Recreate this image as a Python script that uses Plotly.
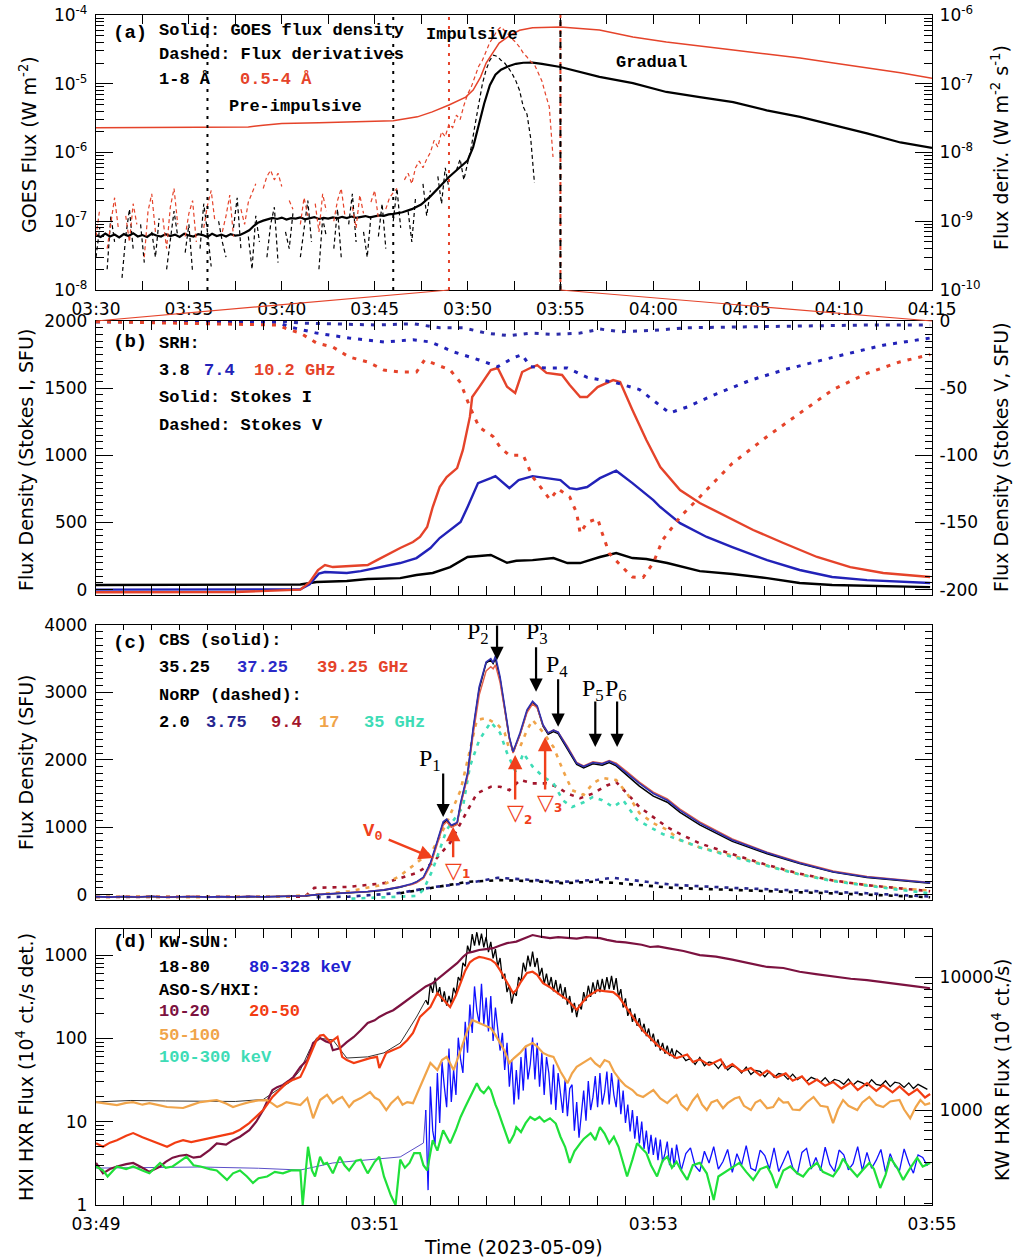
import pandas as pd
import plotly.graph_objects as go

W, H = 1015, 1257
DAY = "2023-05-09"
T_A0 = pd.Timestamp(f"{DAY} 03:30:00")   # start of panel (a)
T_Z0 = pd.Timestamp(f"{DAY} 03:49:00")   # start of panels (b)-(d)

MONO = "Liberation Mono"
SANS = "DejaVu Sans"
SERIF = "Liberation Serif"

RED = "#e5432a"
BLUE = "#2222b8"
NAVY = "#26268f"
DKRED = "#a3162c"
ORANGE = "#f0a44a"
CYAN = "#3edcb6"
MAROON = "#7c1240"
GREEN = "#1fe03a"
KWBLUE = "#1010ff"
HXRED = "#f23c12"

# ---------------------------------------------------------------- panel (a)
# GOES 1-8 A during the quiet interval, one value every 15 s from 03:30
GOES_QUIET_STEP_MIN = 0.25
goes_long_quiet = [
    6.3e-8, 5.9e-8, 6.6e-8, 6.0e-8, 6.4e-8, 5.8e-8, 6.5e-8, 6.1e-8, 6.7e-8, 6.0e-8,
    6.3e-8, 5.9e-8, 6.6e-8, 6.2e-8, 6.0e-8, 6.5e-8, 6.1e-8, 6.4e-8, 5.9e-8, 6.6e-8,
    6.2e-8, 6.0e-8, 6.5e-8, 6.3e-8, 5.9e-8, 6.6e-8, 6.1e-8, 6.4e-8, 6.0e-8, 6.5e-8,
    6.2e-8, 6.3e-8, 6.8e-8, 7.4e-8,
    8.6e-8, 9.6e-8, 1.02e-7, 1.07e-7, 1.12e-7, 1.08e-7, 1.13e-7, 1.06e-7, 1.11e-7, 1.09e-7,
    1.14e-7, 1.07e-7, 1.10e-7, 1.15e-7, 1.08e-7, 1.12e-7, 1.09e-7, 1.14e-7, 1.10e-7, 1.16e-7,
    1.11e-7, 1.17e-7, 1.12e-7, 1.15e-7, 1.19e-7, 1.14e-7, 1.18e-7, 1.22e-7, 1.20e-7, 1.26e-7,
    1.28e-7]
# (minutes after 03:30, W m^-2)
goes_long_flare = [
    (16.5, 1.35e-7), (17.0, 1.5e-7), (17.5, 1.75e-7), (18.0, 2.3e-7), (18.5, 3.2e-7),
    (19.0, 4.4e-7), (19.5, 5.8e-7), (20.0, 7.6e-7), (20.3, 1.2e-6), (20.6, 2.6e-6),
    (20.9, 5.2e-6), (21.2, 9.5e-6), (21.5, 1.35e-5), (21.8, 1.6e-5), (22.2, 1.8e-5),
    (22.6, 1.95e-5), (23.0, 2.02e-5), (23.5, 2.03e-5), (24.0, 1.95e-5), (25.0, 1.75e-5),
    (26.0, 1.5e-5), (27.1, 1.26e-5), (28.9, 1.02e-5), (30.7, 7.6e-6), (32.5, 6.4e-6),
    (34.3, 5.4e-6), (36.1, 4.1e-6), (37.9, 3.3e-6), (39.7, 2.5e-6), (41.5, 1.9e-6),
    (43.3, 1.4e-6), (45.0, 1.17e-6)]
goes_short = [
    (0, 2.3e-6), (4, 2.3e-6), (8.2, 2.35e-6), (9.0, 2.5e-6), (10.0, 2.65e-6), (12, 2.7e-6),
    (14, 2.8e-6), (16.0, 2.9e-6), (17.3, 3.3e-6), (18.1, 3.9e-6), (19.0, 4.9e-6),
    (19.9, 6.4e-6), (20.3, 8.1e-6), (20.7, 1.25e-5), (21.0, 2.0e-5), (21.4, 2.9e-5),
    (21.7, 3.9e-5), (22.3, 5.1e-5), (22.8, 6.0e-5), (23.5, 6.5e-5), (25.0, 6.7e-5),
    (27.1, 6.05e-5), (28.9, 4.8e-5), (30.7, 4.05e-5), (32.5, 3.5e-5), (34.3, 3.1e-5),
    (36.1, 2.7e-5), (37.9, 2.37e-5), (39.7, 2.0e-5), (41.5, 1.7e-5), (43.3, 1.44e-5),
    (45.0, 1.2e-5)]

# time derivatives, one value every 12 s from 03:30, in units of 1e-10 W m^-2 s^-1
# (None where the derivative is negative)
DERIV_STEP_MIN = 0.2
deriv_long = [
    3, 8, None, 2, 12, 5, None, 1.5, 6, 15,
    4, None, 9, 2.5, None, 7, 3, 11, None, 2,
    5, 14, 6, None, 3.5, 9, 1.8, None, 4, 18,
    7, 2.2, None, 10, 5, 3, None, 8, 22, 4,
    None, 6, 2, 12, 5, None, 3, 9, 16, 2.5,
    None, 7, 4, 13, None, 3, 8, 20, 5, None,
    2, 11, 6, None, 4, 15, 3, None, 9, 25,
    5, None, 7, 3, 12, None, 6, 18, 4, None,
    10, 30, 8, None, 14, 5, 22, None, 35, 12,
    28, None, 45, 18, 60, 30, None, 55, 80, 40,
    70, 120, 250, 500, 1000, 1600, 2200, 2600, 2500, 2200,
    2000, 1700, 1400, 1100, 800, 460, 360, 160, 36, None]
deriv_short = [
    6, 15, None, 4, 10, 22, 8, None, 12, 5,
    18, 9, None, 3, 14, 25, 7, None, 11, 4,
    16, 30, 9, None, 6, 13, 20, 5, None, 8,
    17, 28, 10, None, 7, 12, 24, 6, None, 15,
    9, 19, 25, 35, None, 30, 45, 55, 40, 50,
    32, None, 20, 15, None, 9, 22, 12, None, 18,
    7, 25, 14, None, 10, 20, 30, 12, None, 16,
    8, 24, 13, None, 19, 28, 11, None, 15, 22,
    26, 30, None, 40, 50, 35, 60, 75, 60, 80,
    100, 150, 120, 200, 170, 260, 230, 350, 300, 480,
    700, 900, 1300, 1800, 2200, 3000, 4000, 4800, 6000, 6700,
    6000, 5200, 4500, 4000, 3400, 2800, 2450, 2100, 1900, 1400,
    1100, 700, 460, 86, None]
DERIV_UNIT = 1e-10

phase_marks = [("03:36", "dot", "black"), ("03:46", "dot", "black"),
               ("03:49", "dot", RED), ("03:55", "dash", "black")]
phase_labels = [("Pre-impulsive", 227, 107), ("Impulsive", 424, 34), ("Gradual", 614, 62)]

# ---------------------------------------------------------------- panel (b)  SRH
# (seconds after 03:49, SFU)
srh_102_i = [
    (0, -20), (30, -20), (60, -18), (88, 0), (92, 56), (95.6, 146), (98.6, 183), (102, 168),
    (108, 175), (114, 180), (117, 183), (121, 220), (125, 257), (131, 310), (136.5, 354),
    (139.5, 392), (142.6, 466), (145, 615), (148, 764), (151, 838), (155.5, 905), (158, 1040),
    (161, 1286), (162, 1434), (165, 1508), (170, 1635), (173, 1650), (177, 1510), (180.5, 1464),
    (183.5, 1620), (187, 1650), (190, 1672), (194, 1613), (200.7, 1598), (204, 1523),
    (208.5, 1434), (211.5, 1434), (216, 1508), (222.7, 1560), (225.7, 1545), (231, 1338),
    (237, 1114), (243, 913), (251.5, 741), (260, 645), (272, 540), (283, 444), (296, 347),
    (310.5, 243), (324.8, 168), (339, 124), (359.2, 94)]
srh_74_i = [
    (0, 0), (60, 0), (88, 2), (92, 40), (96, 120), (98.6, 131), (108, 124), (114, 138),
    (121, 161), (131, 198), (138, 235), (144, 310), (148, 384), (152.5, 444), (157, 503),
    (160, 615), (164.5, 793), (170, 830), (172, 845), (178, 756), (182, 816), (188, 845),
    (194, 830), (200, 816), (204, 756), (207, 748), (211.5, 764), (217, 830), (224, 885),
    (231, 793), (240, 667), (243, 615), (251.5, 495), (263, 392), (274, 317), (289, 220),
    (303, 146), (317, 94), (332, 71), (359.2, 49)]
srh_38_i = [
    (0, 35), (60, 36), (88, 38), (95, 57), (108, 64), (117, 79), (131, 86), (138, 109),
    (145, 124), (152.5, 168), (160, 243), (165, 250), (170, 258), (177, 200), (181, 215),
    (188, 220), (197, 235), (203, 198), (208.5, 198), (217, 243), (224, 272), (231, 235),
    (237, 228), (246, 198), (260, 138), (274, 116), (289, 86), (303, 49), (317, 34), (359.2, 19)]
srh_38_v = [
    (0, -0.5), (82, -0.5), (88, -1.5), (121, -3), (136.5, -2), (148, -5), (158, -5), (168, -9),
    (178, -11), (187, -9), (197, -10), (208.5, -9), (217, -6), (225.7, -8), (240, -7),
    (254.6, -5), (274, -4.5), (303, -3.7), (332, -3), (359.2, -3)]
srh_74_v = [
    (0, -0.5), (78, -1), (83.6, -4.5), (95, -9), (109, -12.7), (124, -15.6), (136.5, -14),
    (144, -15.6), (154, -23), (165, -29), (173, -34), (179.6, -27.5), (183.5, -25), (187, -34),
    (194, -35), (203, -35), (211.5, -42), (224, -46), (234, -51), (241.6, -61), (247, -68.5),
    (254.6, -64), (267.5, -54), (282, -44), (296, -36.5), (317.4, -27), (339, -18), (359.2, -12.7)]
srh_102_v = [
    (0, -0.5), (78, -3), (83.6, -6.7), (88, -9), (95, -16.4), (102, -19.4), (109, -26.8),
    (117, -30.5), (124, -36.5), (131, -38), (138, -38), (141.5, -29), (147, -32.8),
    (152.5, -36.5), (157, -46), (161, -64), (165, -79), (171, -86), (174, -94), (178, -100),
    (184, -100), (188, -116), (192.5, -126), (195.5, -133), (199, -125), (204, -131),
    (207, -143), (208.5, -158), (211.5, -150), (216, -147), (218, -158), (221, -173),
    (226.5, -183), (231, -190.6), (235.6, -191), (240, -180), (244, -163), (251.5, -146),
    (260, -131), (274, -106), (289, -86), (303, -68.5), (317.4, -51), (332, -39), (346, -30.5),
    (359.2, -25)]

# ---------------------------------------------------------------- panel (c)  CBS / NoRP
cbs_t = [0, 6, 12, 18, 24, 30, 36, 42, 48, 54, 60, 66, 72, 78, 84,
         90, 95, 102, 109, 117, 124, 131, 136, 138, 141,
         144, 147, 149.5, 151, 153, 155.5, 157, 160, 162.5, 165,
         168, 170, 171, 172, 174, 176, 178, 179.6, 182.6, 185.6,
         188, 190, 192.5, 194.7, 197, 199, 203, 207, 210, 214,
         218, 221, 224, 228.7, 234, 240, 246, 251.5, 260, 274,
         289, 303, 317.4, 332, 346, 359.2]
cbs_3725 = [-30, -38, -28, -36, -25, -40, -32, -27, -38, -30, -35, -26, -33, -28, -22,
            -18, 0, 12, 25, 45, 70, 115, 160, 190, 260,
            470, 800, 1080, 1120, 1030, 1070, 1360, 1800, 2490, 3080,
            3450, 3500, 3440, 3540, 3230, 2790, 2340, 2120, 2400, 2740,
            2870, 2800, 2520, 2400, 2440, 2410, 2190, 1950, 1900, 1960,
            1940, 1980, 1930, 1800, 1650, 1500, 1400, 1250, 1060, 810,
            620, 470, 340, 260, 215, 175]
cbs_3525 = [-32, -36, -30, -34, -27, -38, -33, -29, -36, -31, -34, -28, -32, -29, -24,
            -20, -2, 10, 22, 42, 66, 110, 155, 185, 250,
            455, 780, 1060, 1100, 1010, 1050, 1340, 1780, 2460, 3050,
            3440, 3480, 3430, 3500, 3200, 2760, 2320, 2110, 2380, 2720,
            2850, 2780, 2500, 2380, 2420, 2390, 2170, 1930, 1880, 1940,
            1920, 1960, 1910, 1770, 1610, 1460, 1370, 1220, 1035, 790,
            605, 460, 335, 255, 210, 170]
cbs_3925 = [-28, -35, -26, -33, -24, -37, -30, -25, -35, -28, -33, -24, -31, -26, -20,
            -16, 2, 14, 27, 47, 72, 112, 150, 175, 240,
            430, 750, 1030, 1080, 1000, 1040, 1320, 1750, 2400, 2960,
            3320, 3380, 3350, 3410, 3150, 2740, 2310, 2100, 2370, 2700,
            2830, 2770, 2510, 2400, 2440, 2410, 2200, 1960, 1910, 1970,
            1950, 1990, 1950, 1820, 1670, 1520, 1420, 1270, 1080, 825,
            630, 480, 350, 268, 222, 180]
norp_17 = [
    (0, -35), (20, -30), (40, -38), (60, -32), (80, -30), (95, 0), (109, 50), (124, 150),
    (131, 280), (138, 470), (145, 660), (151, 1060), (157, 1550), (161, 2140), (164, 2590),
    (168, 2620), (173, 2520), (176, 2400), (178, 2150), (182.6, 2190), (185.6, 2440),
    (188, 2590), (192.5, 2410), (197, 2190), (201, 1850), (205, 1550), (210, 1480),
    (214, 1650), (218, 1730), (224, 1700), (228.7, 1500), (234, 1210), (240, 1060),
    (246, 960), (251.5, 810), (260, 700), (274, 580), (289, 430), (303, 300), (317.4, 210),
    (332, 140), (346, 90), (359.2, 60)]
norp_35 = [
    (110, -60), (124, -40), (138, -20), (141, 70), (145, 370), (151, 960), (158, 1300),
    (161, 1900), (165, 2290), (170, 2560), (174, 2400), (177, 2100), (181, 1800), (184, 2100),
    (188, 1900), (192.5, 1750), (197, 1650), (201, 1400), (205, 1300), (210, 1370),
    (214, 1450), (218, 1400), (222.7, 1300), (227, 1400), (233, 1110), (238.6, 1000),
    (244, 900), (251.5, 810), (260, 700), (274, 560), (289, 420), (303, 300), (317.4, 200),
    (332, 130), (346, 70), (359.2, 20)]
norp_94 = [
    (0, -35), (30, -32), (60, -36), (90, -30), (94, 100), (109, 115), (124, 170), (138, 320),
    (145, 470), (152.5, 770), (160, 1250), (164, 1500), (170, 1600), (174, 1600), (178, 1550),
    (182.6, 1700), (188, 1650), (194, 1650), (198.5, 1600), (203, 1500), (208.5, 1430),
    (214, 1500), (220, 1620), (224, 1670), (228.7, 1500), (234, 1300), (240, 1150),
    (246, 1000), (251.5, 900), (260, 760), (274, 600), (289, 440), (303, 310), (317.4, 210),
    (332, 140), (346, 90), (359.2, 50)]
norp_375 = [
    (95, -40), (109, -30), (131, 25), (145, 110), (160, 170), (173, 250), (187, 220),
    (201, 190), (216, 220), (222.7, 250), (237, 190), (248.5, 145), (274, 100), (303, 60),
    (332, 20), (359.2, -30)]
norp_20 = [
    (131, 20), (145, 100), (152.5, 145), (160, 190), (174, 215), (188, 200), (201, 170),
    (214, 190), (222.7, 175), (237, 130), (248.5, 100), (274, 70), (303, 40), (332, 0),
    (359.2, -40)]

# peaks (seconds after 03:49) and the arrow tips above them
peaks = [("1", 149.5, 1150), ("2", 172.7, 3480), ("3", 189.5, 3010),
         ("4", 199.0, 2490), ("5", 215.0, 2190), ("6", 224.4, 2190)]
peak_arrow_len = [45, 36, 46, 49, 47, 47]
valleys = [("1", 153.8, 1006, 32), ("2", 180.5, 2072, 46), ("3", 193.4, 2340, 54)]
v0_tip = (145.2, 543)

# ---------------------------------------------------------------- panel (d)  HXR
hxi_1020 = [
    (0, 3.2), (3, 2.4), (6, 2.7), (9, 2.9), (13, 3.1), (16, 3.2), (20, 2.8), (23, 2.5),
    (27.6, 2.9), (30, 3.3), (33, 3.7), (36, 3.9), (39, 4.0), (42, 3.7), (45, 3.8), (49, 4.6),
    (52, 5.5), (56, 5.3), (59, 6.0), (62, 6.6), (66, 7.9), (69, 10), (72, 13.8), (74, 18),
    (76, 24), (78, 26), (80.5, 27.6), (83, 31), (85, 34.4), (88, 45.5), (91, 55), (93.5, 88),
    (96.5, 101), (99, 92), (101, 88), (102, 72), (105, 76), (108, 90), (111, 104), (114, 125),
    (117, 153), (120, 165), (122, 181), (125, 200), (128, 218), (131, 250), (134, 290),
    (137, 330), (139.5, 380), (142, 420), (145, 460), (148, 540), (151, 630), (153, 700),
    (155.5, 800), (158, 950), (160, 1060), (162.5, 1100), (165, 1150), (168, 1180),
    (171, 1210), (174, 1300), (177, 1390), (181, 1450), (184, 1560), (188, 1740), (192, 1650),
    (195.5, 1600), (199, 1640), (203, 1620), (207, 1580), (211, 1640), (217, 1600),
    (220, 1520), (224, 1450), (228, 1420), (231, 1390), (235, 1330), (238.6, 1250),
    (242, 1270), (246, 1210), (253, 1120), (260, 1000), (267, 960), (274, 880), (281, 800),
    (289, 720), (296, 700), (303, 630), (310, 590), (317.4, 550), (325, 520), (332, 500),
    (339, 470), (346, 440), (353, 420), (359.2, 400)]
hxi_2050 = [
    (0, 5.5), (3, 5.0), (6, 5.6), (9, 6.0), (13, 6.8), (16, 7.3), (20, 6.5), (23, 6.0),
    (27, 5.4), (30.6, 5.0), (34, 5.6), (37.5, 6.0), (41, 5.7), (45, 6.0), (49, 6.3),
    (52, 6.6), (56, 7.0), (59, 7.3), (62, 8.0), (66, 9.6), (69, 11.5), (72, 13.8), (74, 16.5),
    (76, 19.8), (79, 24), (82, 29), (85, 32), (88, 34.4), (90, 45), (92, 60), (94, 80),
    (95, 96), (96.5, 108), (98, 110), (101, 90), (104, 104), (106, 60), (108, 55),
    (111, 50.6), (115, 55), (118, 58), (121, 60), (122, 44), (125, 67), (128, 72), (131, 79),
    (134, 95), (136.5, 116), (139.5, 181), (142, 210), (144, 238), (147, 350), (149.5, 290),
    (152.5, 238), (155, 330), (157, 460), (159, 650), (161, 820), (163, 900), (165, 950),
    (167, 930), (170, 880), (172, 800), (174, 660), (176, 520), (178, 415), (179.6, 350),
    (181, 380), (182.6, 460), (185.6, 610), (188, 630), (190, 580), (192.5, 460), (195, 420),
    (197, 380), (200, 330), (203, 290), (205, 250), (207, 220), (209, 260), (211.5, 315),
    (214, 350), (216, 380), (219, 370), (222.7, 360), (225, 320), (227, 265), (230, 200),
    (233, 153), (236, 120), (238.6, 101), (242, 82), (246, 67), (250, 58), (254.6, 64),
    (257, 52), (260, 56), (264, 48), (269, 56), (271, 44), (274, 49), (278, 40), (282, 44),
    (286, 36), (289, 41), (293, 34), (297, 38), (300, 31), (304, 35), (307, 28), (310.5, 32),
    (314, 27), (317.4, 30), (321, 25), (325, 29.5), (328, 24), (332, 29), (336, 23.5),
    (339, 27.5), (343, 22.5), (346, 26.5), (350, 21), (353.6, 24.5), (357, 19.5), (359.2, 21.5)]
hxi_50100 = [
    (0, 17.2), (4, 16.5), (9, 15.8), (13, 16.8), (16, 17.2), (20, 16.0), (23, 16.7),
    (27, 15.8), (30.6, 15.0), (34, 14.8), (37.5, 14.6), (41, 15.8), (45, 17.2), (49, 17.8),
    (52, 18.2), (56, 16.5), (59, 15.0), (62, 16.0), (66, 17.2), (70, 18.0), (73.7, 18.2),
    (76, 16.5), (78, 15.0), (80, 16.0), (82, 17.2), (85, 16.5), (88, 15.8), (91, 19.2),
    (93.5, 11), (96.5, 18.2), (99.5, 21), (102, 16.7), (104, 18.5), (106, 19.8), (109, 15.0),
    (111, 17.5), (114, 19.2), (118, 22.7), (120, 19.5), (122, 18.2), (125, 13.8), (127, 16.5),
    (130, 19.8), (132, 16.0), (134, 17.2), (136.5, 16.7), (139.5, 26), (142, 38),
    (144, 50.6), (147, 41.7), (149, 55), (151, 60), (154, 41.7), (157, 72), (160, 126),
    (162, 166), (165, 153), (168, 140), (170, 133), (172, 110), (174, 88), (176, 70),
    (178, 50.6), (180, 58), (182.6, 67), (185, 80), (188, 88), (190, 80), (192.5, 67),
    (195, 62), (197, 60), (200, 40), (203, 29), (205, 38), (207, 45.5), (210, 52), (213, 58),
    (215, 50), (217, 45.5), (219, 55), (221, 52), (223, 40), (225.7, 31.6), (228, 27),
    (231, 24), (233, 21), (235.6, 19.8), (238, 22), (240, 24), (243, 19), (246, 16.7),
    (248, 19), (250, 21), (252, 16), (254.6, 13.8), (257, 18), (259, 21), (261, 16),
    (263, 13.8), (265, 17), (267.5, 18.2), (270, 14.5), (272, 16.7), (275, 19), (277, 19.8),
    (279, 15.5), (282, 13.8), (284, 17), (286, 18.2), (289, 14.5), (291.6, 15), (294, 19),
    (296, 17), (298, 17.2), (300, 14), (303, 13.8), (306, 17), (309, 19.8), (312, 15.5),
    (315, 15), (317.4, 9.6), (319.5, 14), (321.7, 18.2), (324, 15.5), (327.8, 13.8),
    (330, 17), (333, 19.8), (336, 16), (339, 15), (342, 17.5), (346, 18.2), (348, 14),
    (350.6, 11), (353, 15), (355, 18.2), (357, 16), (359.2, 16.7)]
hxi_100300 = [
    (0, 2.9), (3, 2.6), (5, 2.2), (9, 2.9), (13, 2.7), (16, 2.9), (20, 2.6), (23, 2.4),
    (27.6, 3.2), (30, 2.8), (33, 2.9), (36, 3.3), (39, 3.8), (42, 3.0), (45, 2.9), (49, 2.7),
    (52, 2.6), (56.4, 2.0), (59, 2.4), (62, 2.6), (65, 2.2), (67.6, 1.84), (70, 2.1),
    (73.7, 2.2), (77, 2.5), (80.5, 2.4), (84, 2.6), (88, 2.6), (89, 1.0), (91.3, 5.0),
    (93, 2.6), (94.3, 2.2), (96.5, 3.8), (98, 3.1), (99.5, 3.2), (102, 2.4), (105, 3.8),
    (107, 3.0), (109, 2.6), (112, 3.4), (114, 3.5), (116, 2.7), (117, 2.4), (120, 3.3),
    (122, 3.8), (124, 2.2), (125, 1.84), (127, 1.3), (129, 1.0), (131, 3.5), (133, 2.8),
    (135, 3.2), (137, 4.2), (139.5, 4.2), (141, 3.0), (142.6, 2.6), (145, 6.0), (147, 4.5),
    (149.5, 7.9), (151, 6.5), (152.5, 5.5), (155, 8.0), (157, 11.4), (159, 15), (161, 19.8),
    (163, 26), (164, 29), (165.5, 24), (167, 22), (169, 26), (170, 24), (172, 16),
    (173, 13.8), (175, 9.5), (176, 7.9), (177, 6.8), (178, 5.5), (180, 7.0), (181, 8.6),
    (183, 7.5), (185, 9.6), (187, 11.4), (189, 10.5), (191, 11.4), (193, 10), (195.5, 11.0),
    (198, 9.5), (200, 6.6), (202, 5.0), (204, 3.2), (206, 4.4), (208.5, 5.5), (210, 6.2),
    (213, 7.3), (215, 6.0), (217, 8.6), (219, 7.2), (221, 5.5), (223, 6.6), (225, 5.0),
    (227, 3.2), (228.7, 2.2), (231, 3.5), (233, 5.5), (235, 4.8), (237, 4.2), (239, 3.0),
    (241.6, 2.2), (244, 3.4), (246, 3.8), (248, 2.8), (250, 3.3), (252, 2.6), (254.6, 2.0),
    (257, 3.0), (260, 3.2), (263, 2.4), (266, 1.15), (268, 2.2), (272, 2.6), (275, 3.0),
    (277, 3.2), (280, 2.5), (283, 2.0), (286, 2.7), (289, 2.9), (291, 2.3), (293, 1.6),
    (296, 2.6), (299, 2.9), (302, 2.4), (304.5, 2.2), (307, 2.7), (310.5, 3.2), (313, 2.5),
    (317.4, 2.2), (320, 2.8), (321.7, 3.6), (324, 2.9), (327.8, 2.2), (330, 2.6), (333, 3.2),
    (335, 2.7), (337.7, 1.6), (340, 2.3), (342, 3.7), (345, 2.8), (347.6, 2.0), (350, 2.6),
    (353.6, 3.7), (356, 2.9), (359.2, 3.2)]

# Konus-Wind: low-cadence background, then the triggered high-cadence record
kw_1880_bg = [(0, 1150), (15, 1180), (30, 1170), (45, 1160), (60, 1160), (72, 1200),
              (78, 1415), (83.6, 1620), (88, 2000), (92, 2830), (95, 3480), (102, 3370),
              (108, 2460), (117, 2510), (124, 2690), (131, 3190), (138, 5000), (142, 6700)]
kw_80328_bg = [(0, 366), (20, 370), (45, 373), (70, 365), (88, 354), (102, 400), (117, 421),
               (131, 444), (141, 565), (142, 1000)]
KW_FAST_START_S = 142
KW_FAST_STEP_S = 1      # 142 .. 250 s
KW_SLOW_STEP_S = 2      # 252 .. 358 s
kw_1880_fast = [
    6700, 6200, 8900, 7600, 9900, 7300, 8400, 6500, 7800, 6100,
    7200, 6300, 8300, 7400, 10000, 9300, 12800, 12000, 17200, 15200,
    21000, 17200, 21800, 17300, 21200, 16700, 20000, 15400, 18400, 13800,
    16200, 12000, 13900, 9700, 10600, 7700, 8700, 6300, 7700, 7200,
    10000, 9200, 12800, 11000, 14500, 12000, 15500, 11900, 13900, 10200,
    11700, 8900, 10600, 8400, 10000, 7800, 9500, 7400, 8900, 6900,
    8400, 6200, 7200, 5400, 6400, 5000, 6200, 5700, 7700, 6600,
    8600, 7100, 9100, 7500, 9500, 7700, 9700, 7900, 10000, 8100,
    10200, 8000, 9800, 7100, 8100, 5900, 6900, 5100, 5800, 4600,
    5300, 4300, 4900, 3900, 4450, 3600, 4100, 3300, 3750, 3000,
    3400, 2800, 3200, 2650, 3050, 2550, 2900, 2450, 2800]
kw_1880_slow = [
    2620, 2350, 2450, 2200, 2480, 2150, 2300, 2250, 2050, 2280,
    2000, 2150, 2080, 1900, 2100, 1850, 1980, 1950, 1780, 1950,
    1760, 1880, 1850, 1700, 1860, 1690, 1780, 1640, 1760, 1700,
    1620, 1750, 1590, 1700, 1660, 1560, 1710, 1540, 1650, 1600,
    1520, 1690, 1560, 1530, 1660, 1500, 1620, 1590, 1480, 1600,
    1450, 1560, 1500, 1430]
kw_80328_fast = [
    1000, 250, 1500, 700, 550, 1900, 800, 2300, 1500, 1050,
    2900, 1150, 2000, 1300, 3500, 2400, 1900, 4600, 2700, 6200,
    3800, 8500, 5600, 4500, 8900, 4400, 7000, 3900, 7200, 3300,
    5900, 4200, 2800, 3800, 2000, 3200, 1500, 2400, 1100, 2000,
    1200, 2500, 1400, 3000, 1700, 2200, 3500, 1700, 3200, 1500,
    2700, 1300, 2500, 1900, 1100, 2200, 1000, 1900, 1300, 950,
    1700, 900, 1450, 1550, 700, 1150, 620, 1000, 1400, 830,
    1650, 1000, 1250, 1800, 1050, 1900, 1100, 1350, 1950, 1100,
    1900, 1300, 1050, 1750, 930, 1400, 800, 1100, 690, 1000,
    610, 900, 560, 820, 510, 700, 470, 650, 460, 620,
    420, 600, 405, 470, 580, 385, 520, 375, 550]
kw_80328_slow = [
    350, 470, 520, 380, 345, 490, 400, 530, 360, 410,
    505, 340, 470, 385, 540, 365, 350, 500, 455, 360,
    520, 345, 410, 495, 370, 330, 480, 515, 360, 440,
    350, 525, 390, 345, 500, 460, 355, 395, 530, 350,
    480, 365, 420, 505, 340, 470, 380, 350, 510, 400,
    335, 460, 440, 380]

# ---------------------------------------------------------------- geometry
def px_x(x):
    return x / W


def px_y(y):
    return 1 - y / H


XDOM = [px_x(96), px_x(932)]
DOM_A = [px_y(290), px_y(15)]
DOM_B = [px_y(595), px_y(321)]
DOM_C = [px_y(900), px_y(625)]
DOM_D = [px_y(1205), px_y(929)]


def at_min(ts):
    return [T_A0 + pd.Timedelta(minutes=m) for m in ts]


def at_sec(ts):
    return [T_Z0 + pd.Timedelta(seconds=s) for s in ts]


def hhmm(s):
    return pd.Timestamp(f"{DAY} {s}:00")


def unzip(pairs):
    t, v = zip(*pairs)
    return list(t), list(v)


fig = go.Figure()


def add(x, y, xa, ya, color, width=1.5, dash=None):
    fig.add_trace(go.Scatter(
        x=x, y=y, xaxis=xa, yaxis=ya, mode="lines", connectgaps=False,
        line=dict(color=color, width=width, dash=dash),
        showlegend=False, hoverinfo="skip"))


# ---- panel (a)
lt, lv = unzip(goes_long_flare)
quiet_t = [i * GOES_QUIET_STEP_MIN for i in range(len(goes_long_quiet))]
add(at_min(quiet_t + lt), goes_long_quiet + lv, "x", "y", "black", 2.2)
st, sv = unzip(goes_short)
add(at_min(st), sv, "x", "y", RED, 1.5)
for series, col in ((deriv_long, "black"), (deriv_short, RED)):
    t = [i * DERIV_STEP_MIN for i in range(len(series))]
    v = [None if d is None else d * DERIV_UNIT for d in series]
    add(at_min(t), v, "x", "y2", col, 1.2, "4px,3px")

# ---- panel (b)
for pairs, col in ((srh_38_i, "black"), (srh_74_i, BLUE), (srh_102_i, RED)):
    t, v = unzip(pairs)
    add(at_sec(t), v, "x2", "y3", col, 2.4)
for pairs, col in ((srh_38_v, "#2c2ca8"), (srh_74_v, BLUE), (srh_102_v, RED)):
    t, v = unzip(pairs)
    add(at_sec(t), v, "x2", "y4", col, 3, "4px,7px")

# ---- panel (c)
for pairs, col in ((norp_20, "black"), (norp_375, NAVY), (norp_94, DKRED),
                   (norp_17, ORANGE), (norp_35, CYAN)):
    t, v = unzip(pairs)
    add(at_sec(t), v, "x3", "y5", col, 2.6, "4px,6px")
add(at_sec(cbs_t), cbs_3525, "x3", "y5", "black", 1.5)
add(at_sec(cbs_t), cbs_3925, "x3", "y5", "#e0604a", 1.5)
add(at_sec(cbs_t), cbs_3725, "x3", "y5", "#3030b0", 1.6)

# ---- panel (d): KW on the base (right) axis, HXI on the overlay (left) axis
t, v = unzip(kw_1880_bg)
add(at_sec(t), v, "x4", "y6", "#333333", 1)
t, v = unzip(kw_80328_bg)
add(at_sec(t), v, "x4", "y6", "#5a4fc8", 1)
for fast, slow, col in ((kw_1880_fast, kw_1880_slow, "black"),
                        (kw_80328_fast, kw_80328_slow, KWBLUE)):
    ft = [KW_FAST_START_S + i * KW_FAST_STEP_S for i in range(len(fast))]
    st0 = ft[-1] + KW_SLOW_STEP_S
    stt = [st0 + i * KW_SLOW_STEP_S for i in range(len(slow))]
    add(at_sec(ft + stt), fast + slow, "x4", "y6", col, 1.3)
for pairs, col in ((hxi_1020, MAROON), (hxi_50100, ORANGE), (hxi_2050, HXRED),
                   (hxi_100300, GREEN)):
    t, v = unzip(pairs)
    add(at_sec(t), v, "x4", "y7", col, 2.2)

# ---------------------------------------------------------------- axes
TICKFONT = dict(family=SANS, size=17, color="black")
BASE = dict(showline=True, linecolor="black", linewidth=1.4, showgrid=False,
            zeroline=False, ticks="inside", tickcolor="black", tickwidth=1.2,
            tickfont=TICKFONT, automargin=False)


def date_axis(anchor, t0, t1, dtick, minor_dtick, labels):
    return dict(BASE, domain=XDOM, anchor=anchor, type="date",
                range=[t0, t1], tickmode="linear", tick0=t0, dtick=dtick,
                tickformat="%H:%M", ticklen=9, mirror="allticks",
                showticklabels=labels, ticklabelstandoff=3,
                minor=dict(ticks="inside", ticklen=5, tickcolor="black",
                           tickmode="linear", tick0=t0, dtick=minor_dtick))


def log_minor(lo, hi):
    vals = []
    for e in range(lo, hi):
        vals += [m * 10.0 ** e for m in range(2, 10)]
    return vals


A_T0, A_T1 = T_A0, T_A0 + pd.Timedelta(minutes=45)
Z_T0, Z_T1 = T_Z0, T_Z0 + pd.Timedelta(minutes=6)

layout = dict(
    template="none",
    width=W, height=H, margin=dict(l=0, r=0, t=0, b=0, autoexpand=False),
    paper_bgcolor="white", plot_bgcolor="white", showlegend=False,
    xaxis=date_axis("y", A_T0, A_T1, 300000, 150000, True),
    xaxis2=date_axis("y3", Z_T0, Z_T1, 120000, 12000, False),
    xaxis3=date_axis("y5", Z_T0, Z_T1, 120000, 12000, False),
    xaxis4=date_axis("y6", Z_T0, Z_T1, 120000, 12000, True),
    yaxis=dict(BASE, domain=DOM_A, anchor="x", type="log", range=[-8, -4], side="left",
               tickmode="array", tickvals=[1e-8, 1e-7, 1e-6, 1e-5, 1e-4],
               ticktext=[f"10<sup>-{e}</sup>" for e in (8, 7, 6, 5, 4)],
               ticklen=17, ticklabelstandoff=4,
               minor=dict(ticks="inside", ticklen=8, tickcolor="black",
                          tickmode="array", tickvals=log_minor(-8, -4))),
    yaxis2=dict(BASE, overlaying="y", anchor="x", side="right", type="log",
                range=[-10, -6], tickmode="array",
                tickvals=[1e-10, 1e-9, 1e-8, 1e-7, 1e-6],
                ticktext=[f"10<sup>-{e}</sup>" for e in (10, 9, 8, 7, 6)],
                ticklen=17, ticklabelstandoff=3,
                minor=dict(ticks="inside", ticklen=8, tickcolor="black",
                           tickmode="array", tickvals=log_minor(-10, -6))),
    yaxis3=dict(BASE, domain=DOM_B, anchor="x2", range=[-40, 2000], side="left",
                tickmode="linear", tick0=0, dtick=500, ticklen=17, ticklabelstandoff=4,
                minor=dict(ticks="inside", ticklen=7, tickcolor="black",
                           tickmode="linear", tick0=0, dtick=50)),
    yaxis4=dict(BASE, overlaying="y3", anchor="x2", side="right", range=[-204, 0],
                tickmode="array", tickvals=[0, -50, -100, -150, -200],
                ticktext=["0", "-50", "-100", "-150", "-200"],
                ticklen=17, ticklabelstandoff=3,
                minor=dict(ticks="inside", ticklen=7, tickcolor="black",
                           tickmode="linear", tick0=0, dtick=5)),
    yaxis5=dict(BASE, domain=DOM_C, anchor="x3", range=[-80, 4000], side="left",
                tickmode="linear", tick0=0, dtick=1000, ticklen=17, mirror="allticks",
                ticklabelstandoff=4,
                minor=dict(ticks="inside", ticklen=7, tickcolor="black",
                           tickmode="linear", tick0=0, dtick=100)),
    yaxis6=dict(BASE, domain=DOM_D, anchor="x4", side="right", type="log",
                range=[2.286, 4.361], tickmode="array", tickvals=[1000, 10000],
                ticktext=["1000", "10000"], ticklen=17, ticklabelstandoff=3,
                minor=dict(ticks="inside", ticklen=8, tickcolor="black",
                           tickmode="array",
                           tickvals=[v for v in log_minor(2, 5) if 195 < v < 23000])),
    yaxis7=dict(BASE, overlaying="y6", anchor="x4", side="left", type="log",
                range=[0, 3.313], tickmode="array", tickvals=[1, 10, 100, 1000],
                ticktext=["1", "10", "100", "1000"], ticklen=17, ticklabelstandoff=4,
                minor=dict(ticks="inside", ticklen=8, tickcolor="black",
                           tickmode="array",
                           tickvals=[v for v in log_minor(0, 4) if v < 2100])),
)
fig.update_layout(**layout)

# ---------------------------------------------------------------- shapes
shapes = []
for hm, dash, col in phase_marks:
    if hm == "03:55":
        shapes.append(dict(type="line", xref="x", yref="y domain", x0=hhmm(hm), x1=hhmm(hm),
                           y0=0, y1=1, line=dict(color=RED, width=2, dash="4px,4px")))
    shapes.append(dict(type="line", xref="x", yref="y domain", x0=hhmm(hm), x1=hhmm(hm),
                       y0=0, y1=1,
                       line=dict(color=col, width=2,
                                 dash="3px,6px" if dash == "dot" else "6px,5px")))
# lines tying the 03:49-03:55 window of (a) to the zoomed panels below
for t_top, t_win in ((A_T0, Z_T0), (A_T1, Z_T1)):
    shapes.append(dict(type="line", xref="x", yref="paper", x0=t_top, x1=t_win,
                       y0=DOM_B[1], y1=DOM_A[0], line=dict(color=RED, width=1.2)))
fig.update_layout(shapes=shapes)

# ---------------------------------------------------------------- text
ann = []


def txt(x, y, s, color="black", size=17, family=MONO, xanchor="left", angle=0, bold=True):
    ann.append(dict(x=px_x(x), y=px_y(y), xref="paper", yref="paper", text=s,
                    showarrow=False, xanchor=xanchor, yanchor="middle", textangle=angle,
                    font=dict(family=family, size=size, color=color,
                              weight="bold" if bold else "normal")))


# panel captions
txt(111, 33, "(a)", size=19)
txt(157, 30, "Solid: GOES flux density")
txt(157, 54, "Dashed: Flux derivatives")
txt(157, 80, "1-8 \u00c5")
txt(238, 80, "0.5-4 \u00c5", RED)
for s, x, y in phase_labels:
    txt(x, y, s)

txt(111, 342, "(b)", size=19)
txt(157, 343, "SRH:")
txt(157, 370, "3.8")
txt(202, 370, "7.4", BLUE)
txt(252, 370, "10.2 GHz", RED)
txt(157, 397, "Solid: Stokes I")
txt(157, 425, "Dashed: Stokes V")

txt(111, 643, "(c)", size=19)
txt(157, 640, "CBS (solid):")
txt(157, 667, "35.25")
txt(235, 667, "37.25", "#2a2ac8")
txt(315, 667, "39.25 GHz", RED)
txt(157, 695, "NoRP (dashed):")
txt(157, 722, "2.0")
txt(204, 722, "3.75", NAVY)
txt(269, 722, "9.4", DKRED)
txt(317, 722, "17", ORANGE)
txt(362, 722, "35 GHz", CYAN)

txt(111, 942, "(d)", size=19)
txt(157, 942, "KW-SUN:")
txt(157, 967, "18-80")
txt(247, 967, "80-328 keV", "#2020d0")
txt(157, 990, "ASO-S/HXI:")
txt(157, 1012, "10-20", MAROON)
txt(247, 1012, "20-50", HXRED)
txt(157, 1035, "50-100", ORANGE)
txt(157, 1057, "100-300 keV", CYAN)

# axis titles
TF = 19
for x, y, s in ((28, 145, "GOES Flux (W m<sup>-2</sup>)"),
                (1000, 148, "Flux deriv. (W m<sup>-2</sup> s<sup>-1</sup>)"),
                (26, 460, "Flux Density (Stokes I, SFU)"),
                (1001, 457, "Flux Density (Stokes V, SFU)"),
                (26, 762, "Flux Density (SFU)"),
                (25, 1067, "HXI HXR Flux (10<sup>4</sup> ct./s det.)"),
                (1001, 1070, "KW HXR Flux (10<sup>4</sup> ct./s)")):
    txt(x, y, s, size=TF, family=SANS, xanchor="center", angle=-90, bold=False)
txt(513, 1247, "Time (2023-05-09)", size=TF, family=SANS, xanchor="center", bold=False)

# peak markers in (c)
peak_label_px = {"1": (430, 760), "2": (478, 633), "3": (537, 633), "4": (557, 666),
                 "5": (593, 690), "6": (616, 690)}
for (k, ts, val), L in zip(peaks, peak_arrow_len):
    ann.append(dict(x=T_Z0 + pd.Timedelta(seconds=ts), y=val, xref="x3", yref="y5",
                    text="", showarrow=True, arrowhead=2, arrowsize=1.2, arrowwidth=2.2,
                    arrowcolor="black", ax=0, ay=-L, standoff=0))
    lx, ly = peak_label_px[k]
    txt(lx, ly, f"P<sub>{k}</sub>", size=24, family=SERIF, xanchor="center", bold=False)

# valley markers in (c)
VRED = "#f0401c"
ann.append(dict(x=T_Z0 + pd.Timedelta(seconds=v0_tip[0]), y=v0_tip[1], xref="x3", yref="y5",
                text="", showarrow=True, arrowhead=2, arrowsize=1.2, arrowwidth=2.4,
                arrowcolor=VRED, ax=-46, ay=-19, standoff=0))
txt(372, 832, "V<sub>0</sub>", VRED, size=19, family=MONO, xanchor="center")
valley_sub_px = {"1": (466, 874), "2": (528, 820), "3": (558, 808)}
for k, ts, val, L in valleys:
    ann.append(dict(x=T_Z0 + pd.Timedelta(seconds=ts), y=val, xref="x3", yref="y5",
                    text="", showarrow=True, arrowhead=2, arrowsize=1.2, arrowwidth=2.4,
                    arrowcolor=VRED, ax=0, ay=L, standoff=0))
    ann.append(dict(x=T_Z0 + pd.Timedelta(seconds=ts), y=val, xref="x3", yref="y5",
                    text="\u25bd", showarrow=False, xanchor="center", yanchor="top",
                    yshift=-(L - 3), font=dict(family=SANS, size=22, color=VRED)))
    sx, sy = valley_sub_px[k]
    txt(sx, sy, k, VRED, size=12, family=SANS, xanchor="center")

fig.update_layout(annotations=ann)
fig.write_html("out.html")
